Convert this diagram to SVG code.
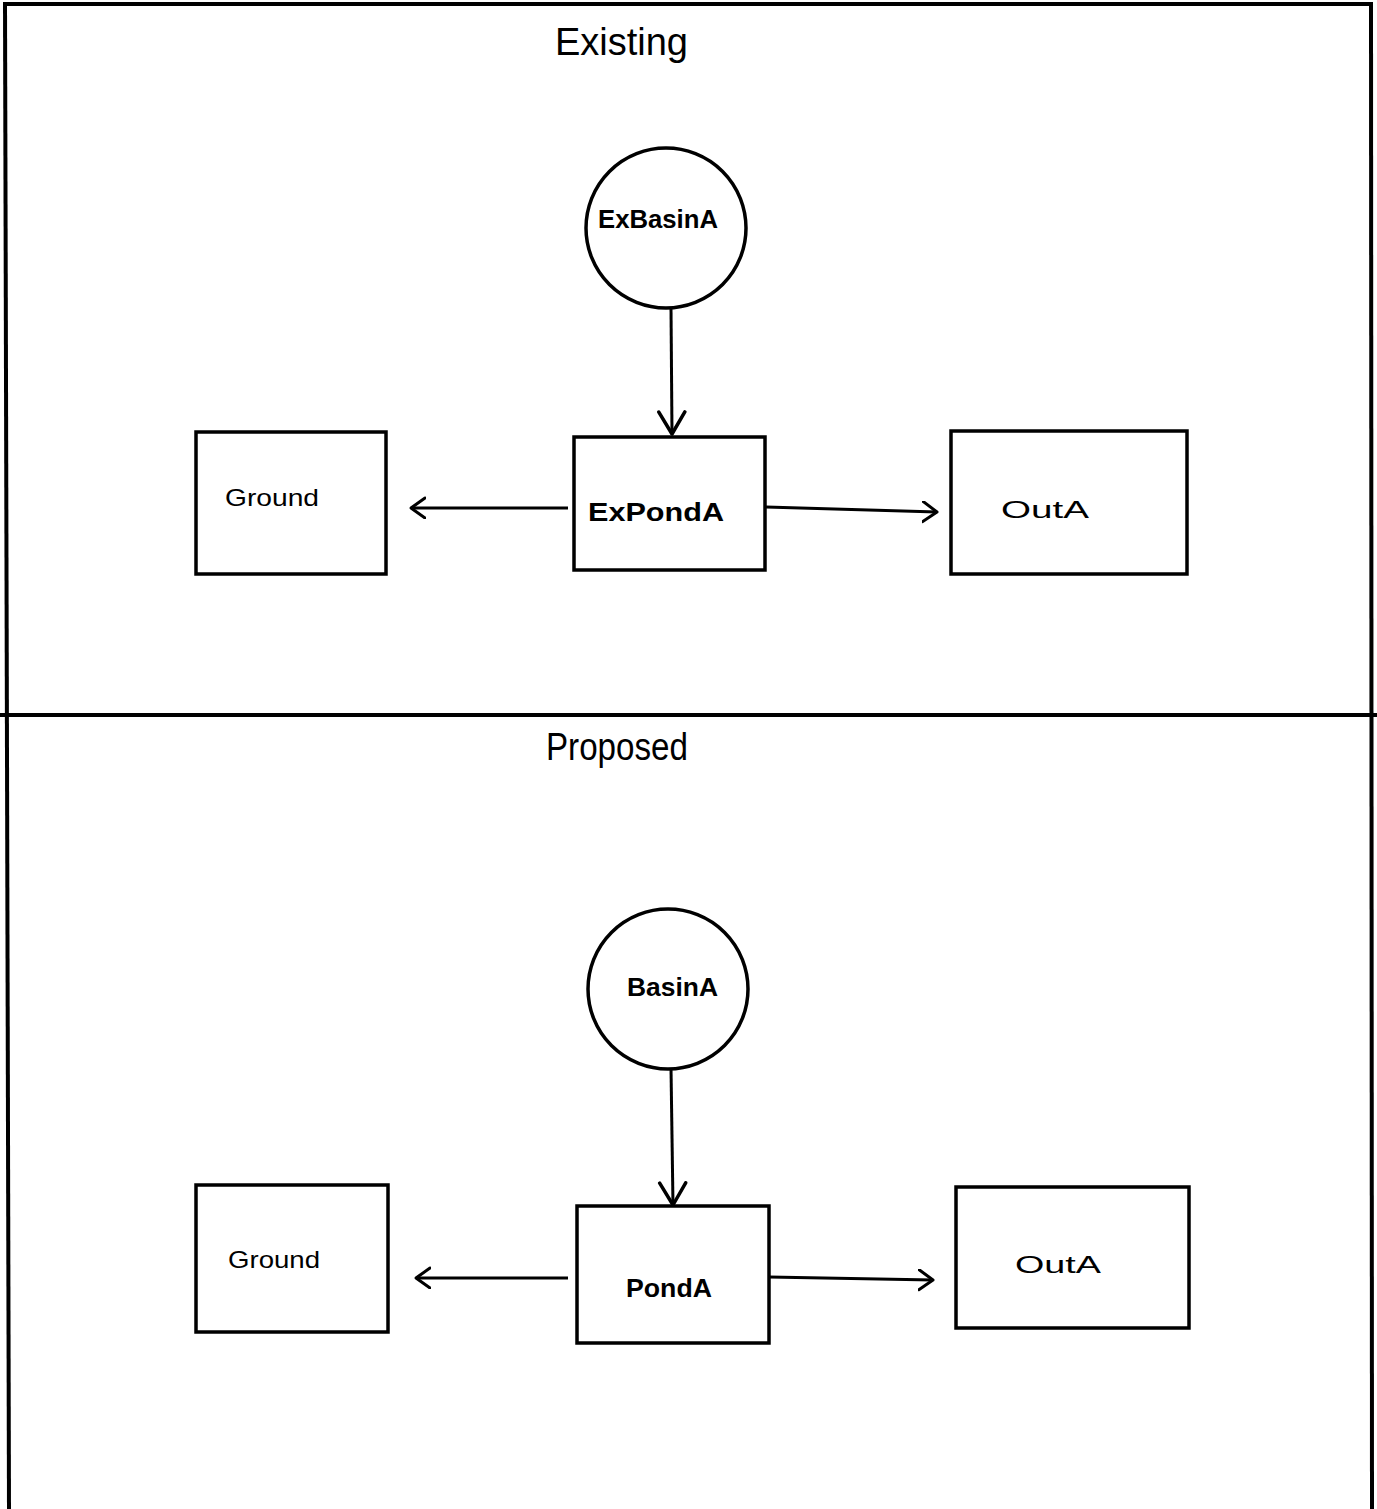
<svg xmlns="http://www.w3.org/2000/svg" width="1377" height="1509" viewBox="0 0 1377 1509">
  <style>
    .frame { fill: none; stroke: #000; stroke-width: 4; }
    .box { fill: none; stroke: #000; stroke-width: 3.5; }
    .basin { fill: none; stroke: #000; stroke-width: 3.5; }
    .edge { fill: none; stroke: #000; stroke-width: 3; }
    .title { font-family: "Liberation Sans", Arial, sans-serif; font-size: 38px; fill: #000; }
    .lbl { font-family: "Liberation Sans", Arial, sans-serif; font-size: 24px; fill: #000; }
    .lbl-bold { font-family: "Liberation Sans", Arial, sans-serif; font-size: 26px; font-weight: bold; fill: #000; }
    .lbl-thin { font-family: "Liberation Sans", Arial, sans-serif; font-size: 24px; fill: #000; }
  </style>
  <defs>
    <!-- open chevron heads: a smaller one for side flows, a wider one for inflow -->
    <marker id="chevron" markerUnits="userSpaceOnUse" markerWidth="20" markerHeight="24" refX="15" refY="11" orient="auto">
      <path d="M1,1 L15,11 L1,21" fill="none" stroke="#000" stroke-width="3" stroke-linecap="round" stroke-linejoin="round"/>
    </marker>
    <marker id="chevron-wide" markerUnits="userSpaceOnUse" markerWidth="28" markerHeight="32" refX="24" refY="15" orient="auto">
      <path d="M2,2 L24,15 L2,28" fill="none" stroke="#000" stroke-width="3.5" stroke-linecap="round" stroke-linejoin="round"/>
    </marker>
  </defs>

  <rect width="1377" height="1509" fill="#fff"/>

  <!-- outer frame and section divider -->
  <g id="frame">
    <line class="frame" x1="3" y1="4" x2="1373" y2="4"/>
    <line class="frame" x1="5" y1="2" x2="9" y2="1509"/>
    <line class="frame" x1="1371" y1="2" x2="1372" y2="1509"/>
    <line class="frame" x1="0" y1="715" x2="1377" y2="715" stroke-width="3"/>
  </g>

  <!-- section headings -->
  <text id="title-existing" class="title" x="555" y="55" textLength="133" lengthAdjust="spacingAndGlyphs">Existing</text>
  <text id="title-proposed" class="title" x="546" y="760" textLength="142" lengthAdjust="spacingAndGlyphs">Proposed</text>

  <!-- connectors -->
  <g id="connectors">
    <line class="edge" x1="671" y1="308" x2="672" y2="434" marker-end="url(#chevron-wide)"/>
    <line class="edge" x1="568" y1="508" x2="411" y2="508" marker-end="url(#chevron)"/>
    <line class="edge" x1="766" y1="507" x2="937" y2="512" marker-end="url(#chevron)"/>

    <line class="edge" x1="671" y1="1068" x2="673" y2="1205" marker-end="url(#chevron-wide)"/>
    <line class="edge" x1="568" y1="1278" x2="416" y2="1278" marker-end="url(#chevron)"/>
    <line class="edge" x1="769" y1="1277" x2="933" y2="1280" marker-end="url(#chevron)"/>
  </g>

  <!-- existing condition -->
  <g id="ExBasinA">
    <circle class="basin" cx="666" cy="228" r="80"/>
    <text class="lbl-bold" x="598" y="228" textLength="120" lengthAdjust="spacingAndGlyphs">ExBasinA</text>
  </g>
  <g id="ExPondA">
    <rect class="box" x="574" y="437" width="191" height="133"/>
    <text class="lbl-bold" x="588" y="521" textLength="136" lengthAdjust="spacingAndGlyphs">ExPondA</text>
  </g>
  <g id="Ground-ex">
    <rect class="box" x="196" y="432" width="190" height="142"/>
    <text class="lbl-thin" x="225" y="506" textLength="94" lengthAdjust="spacingAndGlyphs">Ground</text>
  </g>
  <g id="OutA-ex">
    <rect class="box" x="951" y="431" width="236" height="143"/>
    <text class="lbl" x="1001" y="518" textLength="88" lengthAdjust="spacingAndGlyphs">OutA</text>
  </g>

  <!-- proposed condition -->
  <g id="BasinA">
    <circle class="basin" cx="668" cy="989" r="80"/>
    <text class="lbl-bold" x="627" y="996" textLength="91" lengthAdjust="spacingAndGlyphs">BasinA</text>
  </g>
  <g id="PondA">
    <rect class="box" x="577" y="1206" width="192" height="137"/>
    <text class="lbl-bold" x="626" y="1297" textLength="86" lengthAdjust="spacingAndGlyphs">PondA</text>
  </g>
  <g id="Ground-prop">
    <rect class="box" x="196" y="1185" width="192" height="147"/>
    <text class="lbl-thin" x="228" y="1268" textLength="92" lengthAdjust="spacingAndGlyphs">Ground</text>
  </g>
  <g id="OutA-prop">
    <rect class="box" x="956" y="1187" width="233" height="141"/>
    <text class="lbl" x="1015" y="1273" textLength="86" lengthAdjust="spacingAndGlyphs">OutA</text>
  </g>
</svg>
